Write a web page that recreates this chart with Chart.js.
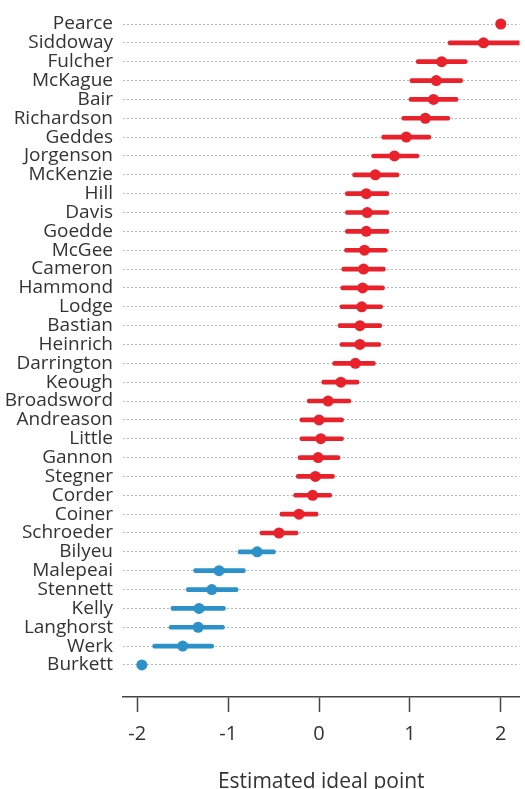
<!DOCTYPE html>
<html>
<head>
<meta charset="utf-8">
<script src="https://cdn.jsdelivr.net/npm/chart.js@4/dist/chart.umd.min.js"></script>
<style>
  html, body { margin: 0; padding: 0; background: #ffffff; }
  #wrap { position: relative; width: 525px; height: 789px; }
</style>
</head>
<body>
<div id="wrap"><canvas id="c"></canvas></div>
<script>
// ---- data ----
const names = ["Pearce","Siddoway","Fulcher","McKague","Bair","Richardson","Geddes","Jorgenson","McKenzie","Hill","Davis","Goedde","McGee","Cameron","Hammond","Lodge","Bastian","Heinrich","Darrington","Keough","Broadsword","Andreason","Little","Gannon","Stegner","Corder","Coiner","Schroeder","Bilyeu","Malepeai","Stennett","Kelly","Langhorst","Werk","Burkett"];
const estimate = [2.00,1.81,1.35,1.29,1.26,1.17,0.96,0.83,0.62,0.52,0.53,0.52,0.50,0.49,0.48,0.47,0.45,0.45,0.40,0.24,0.10,0.00,0.02,-0.01,-0.04,-0.07,-0.22,-0.44,-0.68,-1.10,-1.18,-1.32,-1.33,-1.50,-1.95];
const lower = [null,1.42,1.07,1.00,0.99,0.91,0.69,0.58,0.37,0.29,0.29,0.29,0.28,0.25,0.24,0.23,0.21,0.23,0.15,0.03,-0.13,-0.21,-0.21,-0.23,-0.25,-0.28,-0.43,-0.65,-0.89,-1.38,-1.46,-1.63,-1.65,-1.83,null];
const upper = [null,2.30,1.63,1.58,1.53,1.44,1.23,1.10,0.88,0.77,0.77,0.77,0.75,0.73,0.72,0.70,0.69,0.68,0.62,0.44,0.35,0.27,0.27,0.23,0.17,0.14,-0.01,-0.23,-0.48,-0.81,-0.89,-1.03,-1.04,-1.16,null];
const party = ["R","R","R","R","R","R","R","R","R","R","R","R","R","R","R","R","R","R","R","R","R","R","R","R","R","R","R","R","D","D","D","D","D","D","D"];
const xTicks = [-2,-1,0,1,2];
const xTitle = "Estimated ideal point";

// ---- styling ----
const RED = "#e8212b";
const BLUE = "#2b91c8";
const colorOf = i => party[i] === "D" ? BLUE : RED;
const TEXT = "#333333";

Chart.defaults.font.family = "'Open Sans', sans-serif";

const pointData = names.map((n, i) => ({ x: estimate[i], y: i }));
const barData = names
  .map((n, i) => ({ y: i, x: [lower[i], upper[i]] }))
  .filter(d => d.x[0] !== null && d.x[1] !== null);

new Chart(document.getElementById("c"), {
  type: "bar",
  data: {
    datasets: [
      {
        type: "scatter",
        label: "estimate",
        data: pointData,
        order: 0,
        clip: false,
        pointRadius: 5.5,
        pointHoverRadius: 5.5,
        pointBorderWidth: 0,
        pointBackgroundColor: ctx => colorOf(ctx.raw ? ctx.raw.y : 0),
        pointBorderColor: ctx => colorOf(ctx.raw ? ctx.raw.y : 0),
        showLine: false
      },
      {
        type: "bar",
        label: "interval",
        data: barData,
        order: 1,
        indexAxis: "y",
        barThickness: 4,
        borderWidth: 0,
        borderRadius: 2,
        borderSkipped: false,
        backgroundColor: ctx => colorOf(ctx.raw ? ctx.raw.y : 0)
      }
    ]
  },
  options: {
    indexAxis: "y",
    responsive: true,
    maintainAspectRatio: false,
    animation: false,
    events: [],
    layout: { padding: 0 },
    plugins: { legend: { display: false }, tooltip: { enabled: false } },
    scales: {
      x: {
        type: "linear",
        position: "bottom",
        min: -2.157,
        max: 2.206,
        afterBuildTicks: s => { s.ticks = xTicks.map(v => ({ value: v })); },
        afterFit: s => { s.height = 92; },
        grid: {
          drawOnChartArea: false,
          drawTicks: true,
          tickLength: 15,
          tickWidth: 1.5,
          tickColor: "#444444",
          color: "#444444"
        },
        border: { display: true, color: "#444444", width: 1.5 },
        ticks: {
          color: TEXT,
          padding: 10,
          font: { size: 20 },
          callback: v => (v < 0 ? "-" + Math.abs(v) : String(v))
        },
        title: {
          display: true,
          text: xTitle,
          color: TEXT,
          font: { size: 21 },
          padding: { top: 0, bottom: -6 }
        }
      },
      y: {
        type: "linear",
        position: "left",
        reverse: true,
        offset: false,
        min: -0.138,
        max: 35.70,
        afterBuildTicks: s => { s.ticks = names.map((n, i) => ({ value: i })); },
        afterFit: s => { s.width = 123; },
        grid: {
          offset: false,
          drawTicks: false,
          color: "#b9b9b9",
          lineWidth: 1
        },
        border: { display: false, dash: [2, 2] },
        ticks: {
          color: TEXT,
          padding: 10,
          autoSkip: false,
          font: { size: 19 },
          callback: v => names[v]
        }
      }
    }
  }
});
</script>
</body>
</html>
